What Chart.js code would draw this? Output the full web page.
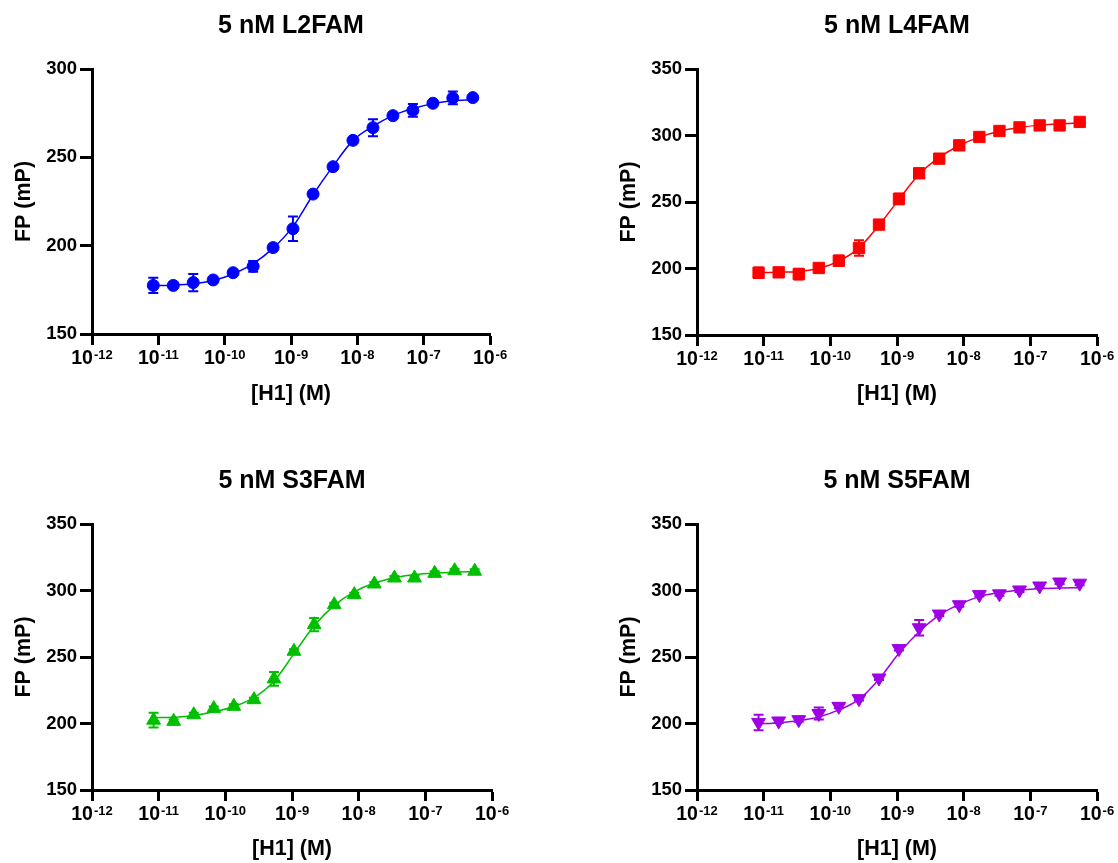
<!DOCTYPE html>
<html>
<head>
<meta charset="utf-8">
<script src="https://cdn.jsdelivr.net/npm/chart.js@4.4.1/dist/chart.umd.min.js"></script>
<style>
  html, body { margin: 0; padding: 0; background: #ffffff; width: 1118px; height: 863px; overflow: hidden; }
  .panel { position: absolute; }
  canvas { display: block; }
</style>
</head>
<body>
<div class="panel" style="left:0px;top:0px"><canvas id="pL2" width="515" height="410"></canvas></div>
<div class="panel" style="left:605px;top:0px"><canvas id="pL4" width="515" height="410"></canvas></div>
<div class="panel" style="left:0px;top:455px"><canvas id="pS3" width="515" height="410"></canvas></div>
<div class="panel" style="left:605px;top:455px"><canvas id="pS5" width="515" height="410"></canvas></div>
<script>
// H1 concentrations (M), two-fold dilution series
const concentrations = [8.39e-12, 1.68e-11, 3.36e-11, 6.71e-11, 1.34e-10, 2.69e-10, 5.37e-10,
  1.07e-9, 2.15e-9, 4.30e-9, 8.59e-9, 1.72e-8, 3.44e-8, 6.88e-8, 1.38e-7, 2.75e-7, 5.50e-7];

// Decade exponents used for the x-axis ticks
const xTickExponents = [-12, -11, -10, -9, -8, -7, -6];

// 5 nM L2FAM: mean FP, SEM, fitted curve
const l2famFP  = [177.5, 177.5, 179.1, 180.6, 184.7, 188.3, 198.9, 209.6, 229.2, 244.7, 259.6, 266.8, 273.6, 276.6, 280.6, 283.6, 283.8];
const l2famSEM = [4.3, 1.0, 4.9, 1.2, 1.5, 3.0, 1.2, 6.9, 1.2, 1.0, 1.0, 4.8, 1.2, 3.6, 1.0, 3.6, 1.0];
const l2famFit = [177.4, 177.6, 178.4, 180.3, 184.0, 189.8, 198.6, 210.8, 228.8, 245.0, 259.6, 267.6, 273.6, 277.6, 280.4, 282.0, 282.6];

// 5 nM L4FAM
const l4famFP  = [196.8, 197.1, 195.8, 200.4, 205.8, 215.4, 233.0, 252.3, 271.6, 282.6, 292.6, 298.9, 303.4, 306.1, 307.6, 307.6, 310.2];
const l4famSEM = [4.0, 1.5, 4.0, 1.5, 4.0, 5.8, 1.5, 4.0, 1.5, 1.5, 1.5, 1.5, 1.5, 1.5, 1.5, 1.5, 1.5];
const l4famFit = [197.0, 197.2, 197.8, 200.0, 205.5, 215.5, 232.5, 252.0, 270.8, 283.5, 292.5, 298.8, 303.2, 306.0, 307.8, 308.8, 309.5];

// 5 nM S3FAM
const s3famFP  = [202.5, 201.6, 206.6, 211.2, 212.9, 217.9, 233.5, 254.3, 274.3, 289.3, 296.9, 304.9, 309.4, 309.4, 312.9, 314.9, 314.5];
const s3famSEM = [5.5, 1.5, 1.5, 1.5, 1.5, 1.5, 5.2, 1.5, 5.0, 1.5, 1.5, 1.5, 1.5, 1.5, 1.5, 1.5, 1.5];
const s3famFit = [204.4, 204.7, 206.0, 208.8, 212.8, 219.5, 231.8, 252.5, 273.5, 288.8, 299.0, 305.6, 309.6, 312.0, 313.2, 313.8, 314.1];

// 5 nM S5FAM
const s5famFP  = [200.8, 201.9, 202.9, 207.5, 212.9, 218.7, 234.2, 256.3, 272.0, 282.3, 289.3, 296.9, 297.5, 300.4, 303.4, 306.4, 305.5];
const s5famSEM = [5.8, 1.5, 1.5, 4.5, 1.5, 1.5, 1.5, 1.5, 5.8, 1.5, 1.5, 1.5, 1.5, 1.5, 1.5, 1.5, 1.5];
const s5famFit = [199.6, 200.6, 202.1, 204.9, 210.2, 218.2, 233.3, 252.8, 269.0, 281.5, 289.6, 295.4, 298.4, 300.4, 301.4, 301.9, 302.1];

const FONT = "'Liberation Sans', Arial, Helvetica, sans-serif";

const panels = [
  { id: 'pL2', title: '5 nM L2FAM', fp: l2famFP, sem: l2famSEM, fit: l2famFit, color: '#0000FF',
    style: 'circle', radius: 6, rotation: 0, yMax: 300, right: 490, bottom: 334 },
  { id: 'pL4', title: '5 nM L4FAM', fp: l4famFP, sem: l4famSEM, fit: l4famFit, color: '#FF0000',
    style: 'rect', radius: 8, rotation: 0, yMax: 350, right: 492, bottom: 335 },
  { id: 'pS3', title: '5 nM S3FAM', fp: s3famFP, sem: s3famSEM, fit: s3famFit, color: '#00BF00',
    style: 'triangle', radius: 8, rotation: 0, yMax: 350, right: 492, bottom: 335 },
  { id: 'pS5', title: '5 nM S5FAM', fp: s5famFP, sem: s5famSEM, fit: s5famFit, color: '#A000E6',
    style: 'triangle', radius: 8, rotation: 180, yMax: 350, right: 492, bottom: 335 }
];

// Vertical SEM bars with caps, drawn beneath the markers
const errorBars = {
  id: 'errorBars',
  beforeDatasetsDraw(chart, args, opts) {
    const { ctx, scales: { x, y } } = chart;
    ctx.save();
    ctx.strokeStyle = opts.color;
    ctx.lineWidth = 2;
    opts.values.forEach((v, i) => {
      const px = x.getPixelForValue(concentrations[i]);
      const hi = y.getPixelForValue(v + opts.errors[i]);
      const lo = y.getPixelForValue(v - opts.errors[i]);
      ctx.beginPath();
      ctx.moveTo(px, hi); ctx.lineTo(px, lo);
      ctx.moveTo(px - 5, hi); ctx.lineTo(px + 5, hi);
      ctx.moveTo(px - 5, lo); ctx.lineTo(px + 5, lo);
      ctx.stroke();
    });
    ctx.restore();
  }
};

// "10" with a raised exponent under every decade tick
const powerLabels = {
  id: 'powerLabels',
  afterDraw(chart) {
    const { ctx } = chart;
    const sc = chart.scales.x;
    const baseFont = `bold 19.5px ${FONT}`;
    const supFont = `bold 13px ${FONT}`;
    ctx.save();
    ctx.fillStyle = '#000000';
    ctx.textBaseline = 'alphabetic';
    ctx.textAlign = 'left';
    xTickExponents.forEach(e => {
      const px = sc.getPixelForValue(Math.pow(10, e));
      const sup = String(e);
      ctx.font = baseFont;
      const wb = ctx.measureText('10').width;
      ctx.font = supFont;
      const ws = ctx.measureText(sup).width;
      const x0 = px - (wb + ws + 1) / 2;
      const yb = sc.top + 30;
      ctx.font = baseFont;
      ctx.fillText('10', x0, yb);
      ctx.font = supFont;
      ctx.fillText(sup, x0 + wb + 1, yb - 5.5);
    });
    ctx.restore();
  }
};

panels.forEach(p => {
  const canvas = document.getElementById(p.id);
  const W = canvas.width, H = canvas.height;
  const axisFont = { family: FONT, size: 21.5, weight: 'bold' };
  const tickFont = { family: FONT, size: 18.5, weight: 'bold' };

  new Chart(canvas, {
    type: 'scatter',
    data: {
      datasets: [
        {
          label: p.title,
          data: concentrations.map((c, i) => ({ x: c, y: p.fp[i] })),
          pointStyle: p.style,
          pointRadius: p.radius,
          pointRotation: p.rotation,
          pointBackgroundColor: p.color,
          pointBorderColor: p.color,
          pointBorderWidth: 1,
          showLine: false
        },
        {
          label: p.title + ' fit',
          data: concentrations.map((c, i) => ({ x: c, y: p.fit[i] })),
          showLine: true,
          borderColor: p.color,
          borderWidth: 1.5,
          pointRadius: 0,
          cubicInterpolationMode: 'monotone',
          fill: false
        }
      ]
    },
    options: {
      responsive: false,
      animation: false,
      events: [],
      layout: { padding: { left: 0, top: 0, right: W - p.right, bottom: 0 } },
      plugins: {
        legend: { display: false },
        tooltip: { enabled: false },
        title: {
          display: true,
          text: p.title,
          color: '#000000',
          fullSize: false,
          font: { family: FONT, size: 25, weight: 'bold', lineHeight: 1.2 },
          padding: { top: 11, bottom: 28 }
        },
        errorBars: { values: p.fp, errors: p.sem, color: p.color }
      },
      scales: {
        x: {
          type: 'logarithmic',
          min: 1e-12,
          max: 1e-6,
          afterBuildTicks: sc => { sc.ticks = xTickExponents.map(e => ({ value: Math.pow(10, e) })); },
          afterFit: sc => { sc.height = H - p.bottom; },
          ticks: { callback: () => '', autoSkip: false, maxRotation: 0 },
          grid: { drawOnChartArea: false, drawTicks: true, tickLength: 11, tickWidth: 3, tickColor: '#000000' },
          border: { display: true, color: '#000000', width: 3 },
          title: { display: true, text: '[H1] (M)', color: '#000000', font: axisFont, padding: { top: 0, bottom: 2.6 } }
        },
        y: {
          type: 'linear',
          min: 150,
          max: p.yMax,
          afterFit: sc => { sc.width = 92; },
          ticks: { stepSize: 50, color: '#000000', font: tickFont, padding: 3 },
          grid: { drawOnChartArea: false, drawTicks: true, tickLength: 12, tickWidth: 3, tickColor: '#000000' },
          border: { display: true, color: '#000000', width: 3 },
          title: { display: true, text: 'FP (mP)', color: '#000000', font: axisFont, padding: { top: 11, bottom: 0 } }
        }
      }
    },
    plugins: [errorBars, powerLabels]
  });
});
</script>
</body>
</html>
